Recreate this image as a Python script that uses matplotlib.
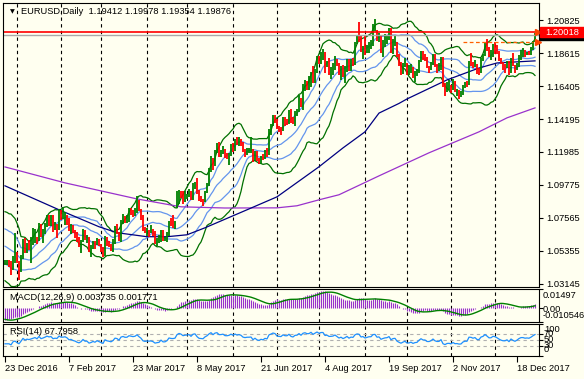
import matplotlib.pyplot as plt
from matplotlib.patches import Rectangle
import numpy as np
import pandas as pd

plt.rcParams['font.family'] = ['Liberation Sans', 'DejaVu Sans']
plt.rcParams['font.size'] = 6.7

# EURUSD daily bars, 23 Dec 2016 .. 29 Dec 2017 (weekdays)
start_date = '2016-12-23'

close_m = [
    [1.0455, 1.0456, 1.0455, 1.0407, 1.0494, 1.0517],
    [1.0457, 1.0404, 1.0487, 1.0605, 1.0533, 1.0575, 1.0557, 1.0584, 1.0614, 1.0645, 1.0604,
     1.0715, 1.0632, 1.0663, 1.0704, 1.0758, 1.0733, 1.0749, 1.0677, 1.0697, 1.0690, 1.0800],
    [1.0763, 1.0763, 1.0781, 1.0750, 1.0683, 1.0700, 1.0661, 1.0640, 1.0600, 1.0573, 1.0605,
     1.0677, 1.0616, 1.0617, 1.0540, 1.0557, 1.0588, 1.0561, 1.0606, 1.0574],
    [1.0545, 1.0505, 1.0621, 1.0580, 1.0566, 1.0543, 1.0582, 1.0671, 1.0657, 1.0604, 1.0733,
     1.0763, 1.0736, 1.0739, 1.0810, 1.0796, 1.0784, 1.0800, 1.0866, 1.0815, 1.0769, 1.0675, 1.0652],
    [1.0668, 1.0662, 1.0666, 1.0645, 1.0592, 1.0603, 1.0610, 1.0671, 1.0614, 1.0615, 1.0645,
     1.0731, 1.0717, 1.0714, 1.0726, 1.0862, 1.0930, 1.0913, 1.0873, 1.0897],
    [1.0902, 1.0926, 1.0884, 1.0980, 1.0998, 1.0928, 1.0877, 1.0871, 1.0863, 1.0932, 1.0980,
     1.1076, 1.1158, 1.1102, 1.1207, 1.1241, 1.1182, 1.1183, 1.1209, 1.1166, 1.1163, 1.1183, 1.1244],
    [1.1215, 1.1282, 1.1253, 1.1278, 1.1260, 1.1211, 1.1197, 1.1211, 1.1212, 1.1218, 1.1151,
     1.1196, 1.1150, 1.1133, 1.1166, 1.1152, 1.1195, 1.1182, 1.1336, 1.1379, 1.1440, 1.1426],
    [1.1362, 1.1351, 1.1348, 1.1423, 1.1401, 1.1400, 1.1468, 1.1414, 1.1398, 1.1469, 1.1477,
     1.1558, 1.1515, 1.1631, 1.1666, 1.1641, 1.1649, 1.1730, 1.1676, 1.1749, 1.1840],
    [1.1804, 1.1858, 1.1860, 1.1773, 1.1793, 1.1753, 1.1757, 1.1770, 1.1821, 1.1780, 1.1733,
     1.1767, 1.1724, 1.1760, 1.1815, 1.1761, 1.1807, 1.1798, 1.1924, 1.1979, 1.1970, 1.1886, 1.1908],
    [1.1859, 1.1890, 1.1917, 1.1917, 1.2023, 1.2035, 1.1952, 1.1966, 1.1885, 1.1918, 1.1944,
     1.1952, 1.1999, 1.1894, 1.1941, 1.1952, 1.1846, 1.1792, 1.1748, 1.1786, 1.1814],
    [1.1733, 1.1737, 1.1762, 1.1707, 1.1731, 1.1739, 1.1808, 1.1865, 1.1821, 1.1820, 1.1766,
     1.1764, 1.1788, 1.1844, 1.1784, 1.1760, 1.1762, 1.1816, 1.1651, 1.1605, 1.1640, 1.1645],
    [1.1619, 1.1659, 1.1607, 1.1611, 1.1588, 1.1591, 1.1643, 1.1664, 1.1662, 1.1798, 1.1794,
     1.1769, 1.1792, 1.1737, 1.1735, 1.1822, 1.1851, 1.1934, 1.1895, 1.1842, 1.1845, 1.1905],
    [1.1894, 1.1865, 1.1826, 1.1794, 1.1774, 1.1773, 1.1800, 1.1745, 1.1825, 1.1781, 1.1750,
     1.1786, 1.1840, 1.1874, 1.1875, 1.1859, 1.1866, 1.1860, 1.1892, 1.1941, 1.19876],
]
high_m = [
    [1.0475, 1.0470, 1.0473, 1.0468, 1.0500, 1.0652],
    [1.0523, 1.0464, 1.0503, 1.0615, 1.0621, 1.0587, 1.0609, 1.0630, 1.0686, 1.0684, 1.0624,
     1.0719, 1.0712, 1.0680, 1.0724, 1.0774, 1.0773, 1.0774, 1.0776, 1.0725, 1.0712, 1.0812],
    [1.0810, 1.0829, 1.0797, 1.0778, 1.0754, 1.0712, 1.0706, 1.0673, 1.0661, 1.0624, 1.0608,
     1.0679, 1.0677, 1.0639, 1.0627, 1.0570, 1.0600, 1.0598, 1.0618, 1.0613],
    [1.0582, 1.0562, 1.0631, 1.0626, 1.0600, 1.0578, 1.0615, 1.0700, 1.0714, 1.0663, 1.0740,
     1.0782, 1.0768, 1.0775, 1.0823, 1.0820, 1.0808, 1.0820, 1.0906, 1.0876, 1.0818, 1.0775, 1.0696],
    [1.0690, 1.0674, 1.0706, 1.0680, 1.0670, 1.0620, 1.0638, 1.0675, 1.0677, 1.0627, 1.0663,
     1.0738, 1.0756, 1.0778, 1.0737, 1.0937, 1.0945, 1.0937, 1.0933, 1.0933],
    [1.0919, 1.0951, 1.0934, 1.0991, 1.0999, 1.1023, 1.0942, 1.0901, 1.0882, 1.0935, 1.0987,
     1.1092, 1.1174, 1.1161, 1.1212, 1.1262, 1.1268, 1.1213, 1.1238, 1.1218, 1.1189, 1.1191, 1.1251],
    [1.1257, 1.1285, 1.1296, 1.1296, 1.1283, 1.1268, 1.1218, 1.1222, 1.1228, 1.1296, 1.1220,
     1.1206, 1.1206, 1.1158, 1.1173, 1.1188, 1.1214, 1.1223, 1.1350, 1.1389, 1.1446, 1.1446],
    [1.1423, 1.1376, 1.1368, 1.1436, 1.1433, 1.1420, 1.1480, 1.1490, 1.1432, 1.1474, 1.1490,
     1.1583, 1.1560, 1.1658, 1.1683, 1.1673, 1.1712, 1.1739, 1.1777, 1.1753, 1.1846],
    [1.1847, 1.1869, 1.1893, 1.1869, 1.1813, 1.1829, 1.1771, 1.1795, 1.1846, 1.1826, 1.1800,
     1.1779, 1.1780, 1.1779, 1.1826, 1.1822, 1.1823, 1.1827, 1.1941, 1.1983, 1.2070, 1.1982, 1.1910],
    [1.1980, 1.1915, 1.1939, 1.1950, 1.2060, 1.2092, 1.2018, 1.1996, 1.1986, 1.1949, 1.1989,
     1.1988, 1.2035, 1.2034, 1.1960, 1.1982, 1.1938, 1.1856, 1.1804, 1.1800, 1.1831],
    [1.1800, 1.1781, 1.1790, 1.1769, 1.1740, 1.1754, 1.1819, 1.1879, 1.1880, 1.1860, 1.1834,
     1.1777, 1.1804, 1.1860, 1.1856, 1.1791, 1.1796, 1.1838, 1.1837, 1.1662, 1.1667, 1.1683],
    [1.1652, 1.1688, 1.1679, 1.1620, 1.1614, 1.1610, 1.1652, 1.1667, 1.1675, 1.1807, 1.1861,
     1.1804, 1.1820, 1.1792, 1.1763, 1.1831, 1.1859, 1.1939, 1.1961, 1.1906, 1.1881, 1.1922],
    [1.1940, 1.1917, 1.1880, 1.1830, 1.1803, 1.1788, 1.1807, 1.1810, 1.1830, 1.1862, 1.1785,
     1.1799, 1.1852, 1.1882, 1.1895, 1.1886, 1.1872, 1.1880, 1.1902, 1.1946, 1.19978],
]
low_m = [
    [1.0436, 1.0440, 1.0428, 1.0375, 1.0404, 1.0455],
    [1.0454, 1.0340, 1.0391, 1.0482, 1.0521, 1.0520, 1.0537, 1.0454, 1.0570, 1.0589, 1.0577,
     1.0600, 1.0627, 1.0587, 1.0650, 1.0696, 1.0701, 1.0704, 1.0658, 1.0674, 1.0619, 1.0676],
    [1.0740, 1.0750, 1.0707, 1.0709, 1.0668, 1.0645, 1.0654, 1.0620, 1.0591, 1.0559, 1.0521,
     1.0596, 1.0605, 1.0585, 1.0523, 1.0494, 1.0546, 1.0544, 1.0570, 1.0569],
    [1.0525, 1.0494, 1.0502, 1.0564, 1.0561, 1.0536, 1.0525, 1.0579, 1.0647, 1.0600, 1.0592,
     1.0716, 1.0720, 1.0723, 1.0730, 1.0775, 1.0764, 1.0771, 1.0790, 1.0801, 1.0740, 1.0670, 1.0651],
    [1.0635, 1.0626, 1.0653, 1.0637, 1.0582, 1.0569, 1.0586, 1.0591, 1.0603, 1.0601, 1.0593,
     1.0632, 1.0700, 1.0690, 1.0683, 1.0821, 1.0850, 1.0891, 1.0851, 1.0862],
    [1.0882, 1.0893, 1.0873, 1.0878, 1.0947, 1.0918, 1.0872, 1.0863, 1.0838, 1.0860, 1.0926,
     1.0970, 1.1065, 1.1075, 1.1102, 1.1190, 1.1166, 1.1165, 1.1188, 1.1160, 1.1149, 1.1110, 1.1169],
    [1.1201, 1.1206, 1.1244, 1.1236, 1.1239, 1.1198, 1.1166, 1.1175, 1.1191, 1.1194, 1.1131,
     1.1135, 1.1141, 1.1118, 1.1119, 1.1142, 1.1151, 1.1166, 1.1180, 1.1312, 1.1370, 1.1395],
    [1.1353, 1.1335, 1.1312, 1.1341, 1.1374, 1.1382, 1.1387, 1.1392, 1.1385, 1.1371, 1.1443,
     1.1470, 1.1502, 1.1479, 1.1610, 1.1612, 1.1612, 1.1636, 1.1660, 1.1659, 1.1730],
    [1.1791, 1.1791, 1.1818, 1.1730, 1.1771, 1.1713, 1.1689, 1.1715, 1.1747, 1.1775, 1.1717,
     1.1681, 1.1703, 1.1662, 1.1735, 1.1740, 1.1744, 1.1775, 1.1786, 1.1922, 1.1940, 1.1870, 1.1823],
    [1.1849, 1.1862, 1.1861, 1.1893, 1.1911, 1.2010, 1.1942, 1.1941, 1.1867, 1.1838, 1.1902,
     1.1922, 1.1949, 1.1862, 1.1860, 1.1908, 1.1837, 1.1778, 1.1718, 1.1725, 1.1771],
    [1.1716, 1.1715, 1.1731, 1.1697, 1.1669, 1.1711, 1.1729, 1.1803, 1.1814, 1.1810, 1.1762,
     1.1730, 1.1752, 1.1781, 1.1771, 1.1727, 1.1740, 1.1752, 1.1637, 1.1574, 1.1601, 1.1618],
    [1.1594, 1.1615, 1.1601, 1.1572, 1.1554, 1.1568, 1.1580, 1.1627, 1.1634, 1.1649, 1.1775,
     1.1762, 1.1772, 1.1722, 1.1715, 1.1728, 1.1812, 1.1845, 1.1875, 1.1839, 1.1815, 1.1838],
    [1.1856, 1.1855, 1.1811, 1.1788, 1.1750, 1.1730, 1.1762, 1.1718, 1.1729, 1.1776, 1.1730,
     1.1751, 1.1767, 1.1819, 1.1839, 1.1836, 1.1852, 1.1848, 1.1848, 1.1881, 1.19354],
]

# closes of Oct - Dec 2016 before the first visible bar (indicator warm-up only)
pre_close = [1.1210, 1.1205, 1.1205, 1.1150, 1.1200, 1.1145, 1.1055, 1.1005, 1.1055, 1.0970,
             1.0995, 1.1010, 1.0975, 1.0930, 1.0885, 1.0880, 1.0875, 1.0915, 1.0900, 1.0985,
             1.0980,
             1.1055, 1.1090, 1.1100, 1.1140, 1.1040, 1.1030, 1.0920, 1.0895, 1.0855, 1.0735,
             1.0725, 1.0695, 1.0625, 1.0590, 1.0625, 1.0630, 1.0550, 1.0555, 1.0590, 1.0615,
             1.0646, 1.0589, 1.0664, 1.0663, 1.0722, 1.0721, 1.0754, 1.0613, 1.0559, 1.0635,
             1.0623, 1.0533, 1.0416, 1.0448, 1.0400, 1.0384, 1.0424, 1.0438]

# slow moving averages (navy = 100, purple = 200) at bar numbers
ma100_at = [0, 27, 47, 56, 71, 81, 91, 100, 121, 136, 157, 169, 180, 187, 197, 201, 221, 237, 246, 265]
ma100 = [1.0971, 1.0810, 1.0696, 1.0656, 1.0629, 1.0629, 1.0642, 1.0689, 1.0810, 1.0897,
         1.1099, 1.1226, 1.1334, 1.1460, 1.1525, 1.1555, 1.1683, 1.1763, 1.1797, 1.1811]
ma200_at = [0, 30, 66, 88, 110, 136, 146, 157, 167, 187, 212, 237, 251, 265]
ma200 = [1.1098, 1.0991, 1.0883, 1.0830, 1.0822, 1.0823, 1.0837, 1.0877, 1.0911, 1.1038,
         1.1193, 1.1334, 1.1428, 1.1495]

price_ticks = [1.20825, 1.18615, 1.16405, 1.14195, 1.11985, 1.09775, 1.07565, 1.05355, 1.03145]
last_open = 1.19412
level_line = 1.20018
bid_line = 1.19876
order_line = 1.19354

BG = '#FFFFF0'
UP = '#008000'
DOWN = '#FF0000'

close = np.array(sum(close_m, []))
high = np.array(sum(high_m, []))
low = np.array(sum(low_m, []))
n = len(close)
dates = pd.bdate_range(start_date, periods=n)
x = np.arange(n)
opn = np.r_[pre_close[-1], close[:-1]]
opn[-1] = last_open

# indicators
s = pd.Series(np.r_[pre_close, close])
k = len(pre_close)
mid = s.rolling(20).mean()
sd = s.rolling(20).std(ddof=0)
mid_v = mid.values[k:]
sd_v = sd.values[k:]
macd = s.ewm(span=12, adjust=False).mean() - s.ewm(span=26, adjust=False).mean()
signal = macd.rolling(9).mean()
macd_v = macd.values[k:]
signal_v = signal.values[k:]
d = s.diff()
ag = d.clip(lower=0).ewm(alpha=1 / 14, adjust=False).mean()
al = (-d.clip(upper=0)).ewm(alpha=1 / 14, adjust=False).mean()
rsi_v = (100 - 100 / (1 + ag / al)).values[k:]

W, H = 584, 379
fig = plt.figure(figsize=(W / 100, H / 100), dpi=100, facecolor=BG)


def panel(x0, y0, x1, y1):
    a = fig.add_axes([x0 / W, 1 - y1 / H, (x1 - x0) / W, (y1 - y0) / H])
    a.set_facecolor(BG)
    a.set_xlim(-1, 267)
    for sp in a.spines.values():
        sp.set_linewidth(0.8)
        sp.set_color('black')
    return a


ax = panel(3, 3, 539, 287)
axm = panel(3, 289, 539, 322)
axr = panel(3, 324, 539, 356)

month_start = [i for i in range(1, n) if dates[i].month != dates[i - 1].month]
for a in (ax, axm, axr):
    for i in month_start:
        a.axvline(i, color='black', lw=0.8, ls=(0, (3, 3)), zorder=0)

# main price panel
ax.set_ylim(1.0291, 1.2200)
ax.plot(x, mid_v + 2 * sd_v, color='#007000', lw=0.9)
ax.plot(x, mid_v - 2 * sd_v, color='#007000', lw=0.9)
for m in (-1, 0, 1):
    ax.plot(x, mid_v + m * sd_v, color='#6495ED', lw=0.9)
ax.plot(ma200_at, ma200, color='#9932CC', lw=0.9)
ax.plot(ma100_at, ma100, color='#000080', lw=0.9)
up = close >= opn
ax.vlines(x[up], low[up], high[up], color=UP, lw=1.3)
ax.vlines(x[~up], low[~up], high[~up], color=DOWN, lw=1.3)
ax.axhline(bid_line, color='#A9A9A9', lw=1)
ax.axhline(level_line, color='red', lw=1.2)
ax.hlines(order_line, 229, 264, color='#FF6000', lw=0.9, ls=(0, (3, 2)))
ax.plot([266.3, 266.3], [level_line, order_line], ls='none', marker='>', ms=5,
        color='#FF4500', clip_on=False, zorder=5)
ax.set_xticks([])
ax.yaxis.tick_right()
ax.set_yticks(price_ticks)
ax.set_yticklabels([f'{v:.5f}' for v in price_ticks])
ax.tick_params(axis='y', length=3, width=0.8, pad=2, labelsize=6.7)

# price label boxes on the axis
def ypix(val):
    return ax.transData.transform((0, val))[1]

yb = ypix(bid_line)
fig.add_artist(Rectangle((540 / W, (yb - 5) / H), 44 / W, 10 / H, transform=fig.transFigure,
                         color='black', zorder=5))
yr = ypix(level_line)
fig.add_artist(Rectangle((540 / W, (yr - 5) / H), 44 / W, 10 / H, transform=fig.transFigure,
                         color='red', zorder=6))
fig.text(545 / W, yr / H, f'{level_line:.5f}', color='white', va='center', ha='left',
         fontsize=6.7, zorder=7)

fig.text(12 / W, 1 - 12 / H, '\u25bc', fontsize=4.5, va='center', ha='center',
         family='DejaVu Sans')
fig.text(21 / W, 1 - 12 / H, 'EURUSD,Daily  1.19412 1.19978 1.19354 1.19876',
         va='center', ha='left')

# MACD panel
axm.set_ylim(-0.010546, 0.01497)
axm.vlines(x, 0, macd_v, color='#9932CC', lw=0.8)
axm.plot(x, signal_v, color='#008000', lw=1)
axm.set_xticks([])
axm.yaxis.tick_right()
axm.set_yticks([0.01497, 0.0, -0.010546])
axm.set_yticklabels([])
axm.tick_params(axis='y', length=3, width=0.8)
fig.text(10 / W, 1 - 297 / H, 'MACD(12,26,9) 0.003735 0.001771', va='center', ha='left')
for lab, yy in (('0.01497', 296), ('0.00', 309), ('-0.010546', 315)):
    fig.text(543 / W, 1 - yy / H, lab, va='center', ha='left')

# RSI panel
axr.set_ylim(0, 100)
for lv in (70, 50, 30):
    axr.axhline(lv, color='#B0B0B0', lw=0.8, ls=(0, (3, 3)))
axr.plot(x, rsi_v, color='#1E90FF', lw=0.9)
axr.yaxis.tick_right()
axr.set_yticks([100, 70, 50, 30, 0])
axr.set_yticklabels([])
axr.tick_params(axis='y', length=3, width=0.8)
fig.text(10 / W, 1 - 331 / H, 'RSI(14) 67.7958', va='center', ha='left')
for lab, yy in (('100', 330), ('70', 333), ('50', 339.5), ('30', 345.5), ('0', 350)):
    fig.text(544 / W, 1 - yy / H, lab, va='center', ha='left')

label_at = list(range(0, n, 32))
axr.set_xticks(label_at)
axr.set_xticklabels([f'{dates[i].day} {dates[i]:%b %Y}' for i in label_at])
for t in axr.get_xticklabels():
    t.set_ha('left')
axr.tick_params(axis='x', length=4, width=0.8, pad=1.5, labelsize=6.7)

fig.savefig('out.png', dpi=100, facecolor=BG)
